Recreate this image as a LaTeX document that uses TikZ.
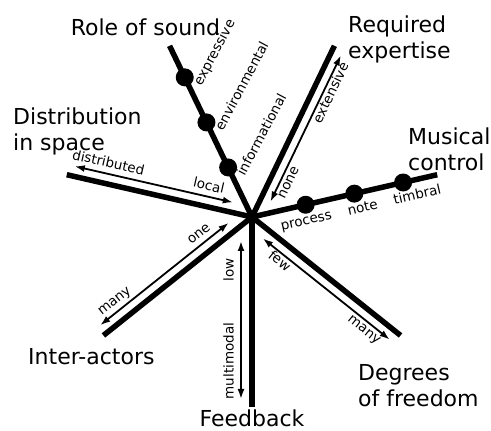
\documentclass[tikz,border=0pt]{standalone}
\usepackage{fontspec}
\setmainfont{DejaVu Sans}
\usetikzlibrary{arrows.meta}
\usetikzlibrary{calc}

\begin{document}
\begin{tikzpicture}[x=1pt, y=1pt,
        axis/.style={line width=5.5pt},
        spanarrow/.style={line width=1.8pt, {Latex[length=10pt,width=7pt]}-{Latex[length=10pt,width=7pt]}},
        dot/.style={circle, fill=black, inner sep=0pt, minimum size=18pt},
        title/.style={font=\fontsize{22}{26}\selectfont, inner sep=0pt, align=left},
        tick/.style={font=\fontsize{13.5}{16}\selectfont, inner sep=0pt, anchor=mid}]
        \useasboundingbox (-252,-214) rectangle (239,217);

        \coordinate (hub) at (0,0);

        % role of sound
        \coordinate (sound) at (115.71:190);
        \draw[axis] (hub) -- (sound);
        \node[dot] (informational) at (115.71:55) {};
        \node[dot] (environmental) at (115.71:105) {};
        \node[dot] (expressive) at (115.71:155) {};
        \node[tick, rotate=62, anchor=mid west] (informational-label) at ($(informational)+(14,-8)$) {informational};
        \node[tick, rotate=62, anchor=mid west] (environmental-label) at ($(environmental)+(14,-8)$) {environmental};
        \node[tick, rotate=62, anchor=mid west] (expressive-label) at ($(expressive)+(14,-8)$) {expressive};
        \node[title, anchor=base] (sound-title) at (-106.5,181) {Role of sound};

        % required expertise
        \coordinate (expertise) at (64.29:190);
        \draw[axis] (hub) -- (expertise);
        \coordinate (none) at ($(64.29:22)+(-25.71:10)$);
        \coordinate (extensive) at ($(64.29:184)+(-25.71:10)$);
        \draw[spanarrow] (none) -- (extensive);
        \node[tick, rotate=64.29] (none-label) at ($(64.29:47)+(-25.71:19)$) {none};
        \node[tick, rotate=64.29] (extensive-label) at ($(64.29:146)+(-25.71:19)$) {extensive};
        \node[title, anchor=north west] (expertise-title) at (96,201) {Required\\expertise};

        % musical control
        \coordinate (control) at (12.86:190);
        \draw[axis] (hub) -- (control);
        \node[dot] (process) at (12.86:55) {};
        \node[dot] (note) at (12.86:105) {};
        \node[dot] (timbral) at (12.86:155) {};
        \node[tick, rotate=12.86] (process-label) at ($(12.86:52)+(-77.14:17)$) {process};
        \node[tick, rotate=12.86] (note-label) at ($(12.86:110)+(-77.14:17)$) {note};
        \node[tick, rotate=12.86] (timbral-label) at ($(12.86:166)+(-77.14:17)$) {timbral};
        \node[title, anchor=north west] (control-title) at (156,89.4) {Musical\\control};

        % distribution in space
        \coordinate (space) at (167.14:190);
        \draw[axis] (hub) -- (space);
        \coordinate (local) at ($(167.14:22)+(77.14:10)$);
        \coordinate (distributed) at ($(167.14:184)+(77.14:10)$);
        \draw[spanarrow] (local) -- (distributed);
        \node[tick, rotate=-12.86] (local-label) at ($(167.14:49)+(77.14:19)$) {local};
        \node[tick, rotate=-12.86] (distributed-label) at ($(167.14:152)+(77.14:19)$) {distributed};
        \node[title, anchor=north west] (space-title) at (-239,109.7) {Distribution\\in space};

        % inter-actors
        \coordinate (actors) at (218.57:190);
        \draw[axis] (hub) -- (actors);
        \coordinate (one) at ($(218.57:22)+(128.57:10)$);
        \coordinate (many-actors) at ($(218.57:186)+(128.57:10)$);
        \draw[spanarrow] (one) -- (many-actors);
        \node[tick, rotate=38.57] (one-label) at ($(218.57:52)+(128.57:19)$) {one};
        \node[tick, rotate=38.57] (many-actors-label) at ($(218.57:160)+(128.57:19)$) {many};
        \node[title, anchor=base west] (actors-title) at (-224,-148) {Inter-actors};

        % feedback
        \coordinate (feedback) at (270:190);
        \draw[axis] (hub) -- (feedback);
        \coordinate (low) at ($(270:24)+(180:11)$);
        \coordinate (multimodal) at ($(270:182)+(180:11)$);
        \draw[spanarrow] (low) -- (multimodal);
        \node[tick, rotate=90] (low-label) at ($(270:53)+(180:21)$) {low};
        \node[tick, rotate=90] (multimodal-label) at ($(270:144)+(180:21)$) {multimodal};
        \node[title, anchor=base] (feedback-title) at (0,-209.5) {Feedback};

        % degrees of freedom
        \coordinate (freedom) at (321.43:190);
        \draw[axis] (hub) -- (freedom);
        \coordinate (few) at ($(321.43:22)+(231.43:10)$);
        \coordinate (many-freedom) at ($(321.43:184)+(231.43:10)$);
        \draw[spanarrow] (few) -- (many-freedom);
        \node[tick, rotate=-38.57] (few-label) at ($(321.43:49)+(231.43:19)$) {few};
        \node[tick, rotate=-38.57] (many-freedom-label) at ($(321.43:158)+(231.43:19)$) {many};
        \node[title, anchor=north west] (freedom-title) at (106,-147.3) {Degrees\\of freedom};
\end{tikzpicture}
\end{document}
